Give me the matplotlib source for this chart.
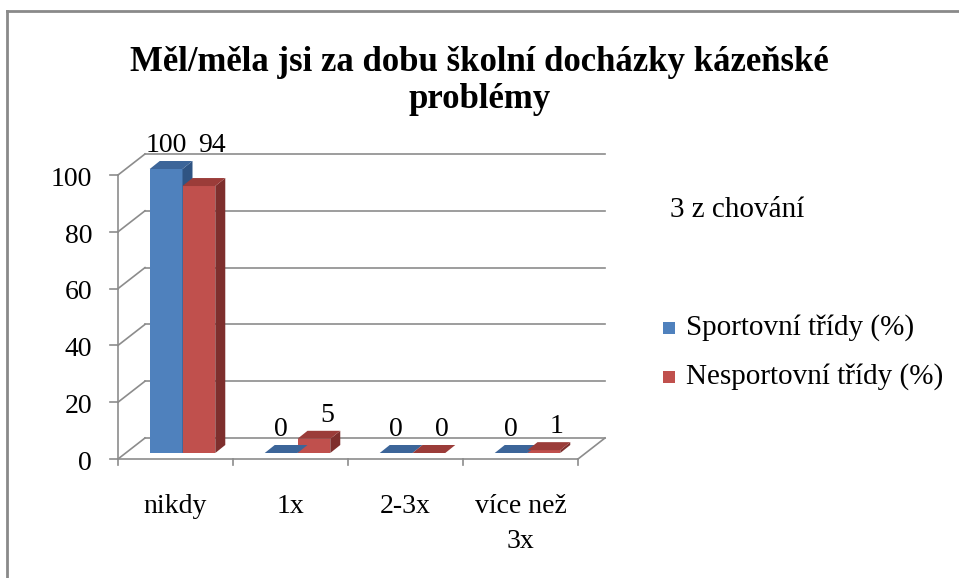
import matplotlib.pyplot as plt
from matplotlib.patches import Polygon
from matplotlib.lines import Line2D

# Data
categories = ['nikdy', '1x', '2-3x', 'více než\n3x']
sportovni = [100, 0, 0, 0]
nesportovni = [94, 5, 0, 1]
series_names = ['Sportovní třídy (%)', 'Nesportovní třídy (%)']
y_ticks = [0, 20, 40, 60, 80, 100]

title = 'Měl/měla jsi za dobu školní docházky kázeňské\nproblémy'
legend_title = '3 z chování'

plt.rcParams['font.family'] = ['Liberation Serif', 'DejaVu Serif']

W, H = 959, 578
fig = plt.figure(figsize=(W / 100, H / 100), dpi=100)

# pixel geometry of the plot (front plane)
x0_px, x1_px = 118, 578
y0_px, y100_px = 459, 175
ux = (x1_px - x0_px) / len(categories)     # px per category
uy = (y0_px - y100_px) / 100.0             # px per value unit
wall_dx, wall_dy = 27, 21                  # depth of the 3d box (px)

DX = wall_dx / ux
DY = wall_dy / uy
xmax = len(categories) + DX
ymax = 100 + DY

ax = fig.add_axes([x0_px / W, 1 - y0_px / H,
                   (x1_px + wall_dx - x0_px) / W, (y0_px - (y100_px - wall_dy)) / H])
ax.set_xlim(0, xmax)
ax.set_ylim(0, ymax)
ax.axis('off')

fs = 20
grid_c = '#8c8c8c'
# back wall gridlines + left wall diagonals
for t in y_ticks:
    ax.plot([DX, xmax], [t + DY, t + DY], color=grid_c, lw=1.2, clip_on=False)
    ax.plot([0, DX], [t, t + DY], color=grid_c, lw=1.2, clip_on=False)
# floor
ax.plot([0, len(categories)], [0, 0], color=grid_c, lw=1.2, clip_on=False)
ax.plot([len(categories), xmax], [0, DY], color=grid_c, lw=1.2, clip_on=False)
# front y axis
ax.plot([0, 0], [0, 100], color=grid_c, lw=1.2, clip_on=False)
tick_len = 8 / ux
for t in y_ticks:
    ax.plot([-tick_len, 0], [t, t], color=grid_c, lw=1.2, clip_on=False)
    ax.text(-26 / ux, t - 1.5, str(t), ha='right', va='center', fontsize=fs, clip_on=False)
# x ticks
for i in range(len(categories) + 1):
    ax.plot([i, i], [0, -6 / uy], color=grid_c, lw=1.2, clip_on=False)
for i, c in enumerate(categories):
    ax.text(i + 0.5, -35 / uy, c, ha='center', va='top', fontsize=fs,
            linespacing=1.5, clip_on=False)

# bars
bar_w = 0.285
off_x, off_y = 7 / ux, 6 / uy         # bars sit a bit behind the front plane
bdx, bdy = 10 / ux, 8 / uy            # bar depth
styles = [('#4f81bd', '#3c6599', '#2f5483'),
          ('#c0504d', '#9b3c39', '#7e2f2d')]
for s, vals in enumerate([sportovni, nesportovni]):
    front, top, side = styles[s]
    for i, v in enumerate(vals):
        xl = i + 0.5 + off_x - bar_w + s * bar_w
        xr = xl + bar_w
        yb = off_y
        yt = off_y + v
        if v > 0:
            ax.bar(xl, v, width=bar_w, bottom=yb, align='edge', color=front,
                   edgecolor='none', zorder=3)
            ax.add_patch(Polygon([(xr, yb), (xr + bdx, yb + bdy), (xr + bdx, yt + bdy), (xr, yt)],
                                 closed=True, facecolor=side, edgecolor='none', zorder=3))
        ax.add_patch(Polygon([(xl, yt), (xr, yt), (xr + bdx, yt + bdy), (xl + bdx, yt + bdy)],
                             closed=True, facecolor=top, edgecolor='none', zorder=4))

# data labels (pairs of nearly equal values share one row, as in the original)
for i in range(len(categories)):
    pair = [sportovni[i], nesportovni[i]]
    for s, v in enumerate(pair):
        ly = max(pair) if v >= 0.9 * max(pair) else v
        xc = i + 0.5 + off_x - bar_w / 2 + s * bar_w + s * 13 / ux
        ax.text(xc, ly + off_y + bdy + 9 / uy, str(v), ha='center', va='baseline',
                fontsize=fs, zorder=5, clip_on=False)

# title
fig.text(0.5, 1 - 46 / H, title, ha='center', va='top', fontsize=25,
         fontweight='bold', linespacing=1.15)

# legend
fig.text(670 / W, 1 - 210 / H, legend_title, ha='left', va='center', fontsize=21)
for k, name in enumerate(series_names):
    yc = 1 - (328 + 49 * k) / H
    fig.patches.append(plt.Rectangle((663 / W, yc - 6 / H), 12 / W, 12 / H,
                                     transform=fig.transFigure, facecolor=styles[k][0],
                                     edgecolor='none'))
    fig.text(686 / W, yc, name, ha='left', va='center', fontsize=21)

# outer border
fig.add_artist(Line2D([7 / W, 7 / W], [0, 1 - 11 / H], color='#8a8a8a', lw=2))
fig.add_artist(Line2D([7 / W, 1], [1 - 11 / H, 1 - 11 / H], color='#8a8a8a', lw=2))

fig.savefig('out.png', dpi=100)
